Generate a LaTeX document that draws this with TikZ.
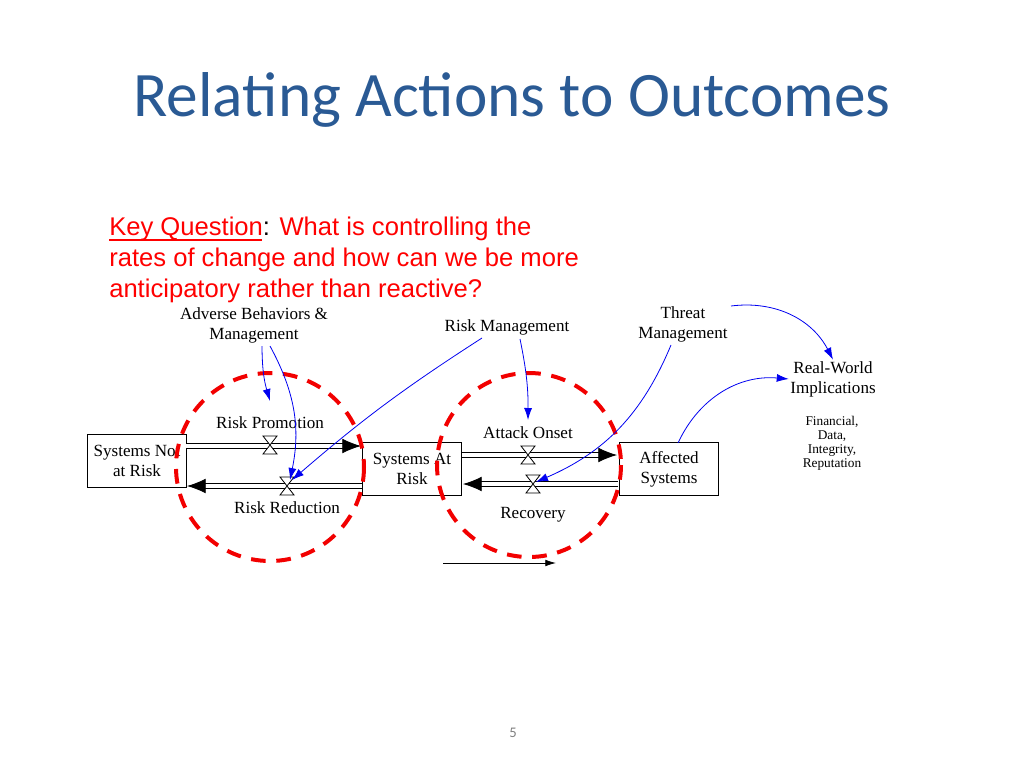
\documentclass[tikz,border=0pt]{standalone}
\usepackage{fontspec}
\setmainfont{Liberation Serif}
\newfontfamily\calfont{Carlito}
\newfontfamily\arsfont{Liberation Sans}
\usetikzlibrary{arrows.meta}
\definecolor{titleblue}{HTML}{2A5A94}
\definecolor{linkblue}{HTML}{0000F0}
\tikzset{
  stock/.style={draw,semithick,fill=white,minimum width=74pt,minimum height=40pt,align=center,font=\fontsize{12.8}{15}\selectfont,inner sep=1pt},
  lbl/.style={align=center,font=\fontsize{12.8}{15}\selectfont,inner sep=1pt},
  small/.style={align=center,font=\fontsize{10}{10.5}\selectfont,inner sep=1pt},
  link/.style={linkblue,semithick,-{Latex[length=9pt,width=6pt]}},
  pipe/.style={double,double distance=3.5pt,semithick,-{Latex[length=14pt,width=11pt]},shorten >=0pt},
  ring/.style={red!95!black,line width=3pt,dash pattern=on 11pt off 8pt},
  valve/.pic={\draw[fill=white,semithick] (-7,-9) -- (7,-9) -- (-7,9) -- (7,9) -- cycle;}
}
\begin{document}
\begin{tikzpicture}[x=0.75pt,y=-0.75pt]
\useasboundingbox (0,0) rectangle (1024,768);
\node[titleblue,font=\calfont\fontsize{47.5}{56}\selectfont] (title) at (512,100) {Relating Actions to Outcomes};
\node[anchor=north west,align=left,text=red,font=\arsfont\fontsize{19.2}{23.3}\selectfont,inner sep=0] (kq) at (109,217)
 {Key Question\textcolor{black}{:} What is controlling the\\rates of change and how can we be more\\anticipatory rather than reactive?};
\draw[red,line width=0.8pt] (109,240) -- (262,240);

\node[stock] (snr) at (137,461) {Systems Not\\at Risk};
\node[stock] (sar) at (412,469) {Systems At\\Risk};
\node[stock] (aff) at (669,469) {Affected\\Systems};

\draw[pipe] (186,446) -- (361,446);
\draw[pipe] (362,486) -- (187,486);
\draw[pipe] (462,455) -- (617,455);
\draw[pipe] (618,484) -- (463,484);

\coordinate (vp) at (270,445);
\coordinate (vr) at (287,486);
\coordinate (va) at (528,455);
\coordinate (vc) at (533,484);
\pic at (vp) {valve};
\pic at (vr) {valve};
\pic at (va) {valve};
\pic at (vc) {valve};

\node[lbl] (rp) at (270,423) {Risk Promotion};
\node[lbl] (rr) at (287,508) {Risk Reduction};
\node[lbl] (ao) at (528,433) {Attack Onset};
\node[lbl] (rc) at (533,515) {Recovery};

\node[lbl] (abm) at (254,325) {Adverse Behaviors \&\\Management};
\node[lbl] (rm) at (507,327) {Risk Management};
\node[lbl] (tm) at (683,324) {Threat\\Management};
\node[lbl] (rw) at (833,379) {Real-World\\Implications};
\node[small] (fin) at (832,443) {Financial,\\Data,\\Integrity,\\Reputation};

\draw[ring] (270,467) circle (94);
\draw[ring] (529,465) circle (92);

\coordinate (a1) at (262,346);
\coordinate (a2) at (270,346);
\coordinate (a3) at (482,338);
\coordinate (a4) at (520,339);
\coordinate (a5) at (671,345);
\coordinate (a6) at (731,306);
\draw[link] (a1) to[bend right=8] (270,401);
\draw[link] (a2) to[bend left=20] (290,480);
\draw[link] (a3) to[bend right=4] (292,480);
\draw[link] (a4) to[bend left=6] (528,420);
\draw[link] (a5) to[bend left=22] (536,482);
\draw[link] (a6) to[bend left=35] (rw.north);
\draw[link] (678,443) to[bend left=35] (rw.west);

\coordinate (lg1) at (443,563);
\coordinate (lg2) at (556,563);
\draw[semithick,-{Latex[length=8pt,width=5pt]}] (lg1) -- (lg2);
\node[black!50,font=\calfont\fontsize{11}{13}\selectfont] (pg) at (513,733) {5};
\end{tikzpicture}
\end{document}
